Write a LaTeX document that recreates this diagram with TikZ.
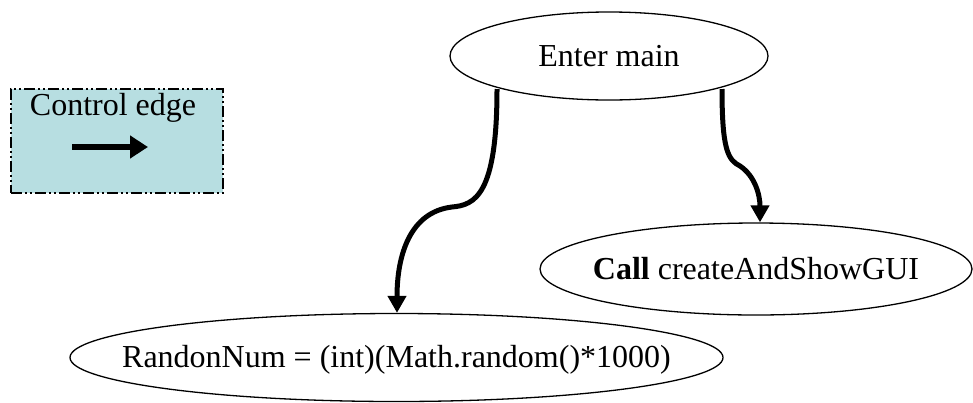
\documentclass[tikz,border=0pt]{standalone}
\usepackage{fontspec}
\setmainfont{Liberation Serif}
\usetikzlibrary{shapes.geometric,arrows.meta}
\definecolor{legendfill}{RGB}{183,222,225}
\begin{document}
\begin{tikzpicture}[x=1pt,y=-1pt,
  every node/.style={font=\fontsize{32}{38}\selectfont},
  stmt/.style={ellipse,draw,line width=1.3pt,inner sep=0pt},
  ctrl/.style={line width=5pt,-{Triangle[length=17pt,width=18pt]}},
  legendarrow/.style={line width=6pt,-{Triangle[length=18pt,width=22pt]}},
  legendbox/.style={draw,fill=legendfill,line width=1.8pt,
    dash pattern=on 11pt off 3pt on 2pt off 3pt on 2pt off 3pt}]
\useasboundingbox (0,0) rectangle (973,402);
% legend
\node[legendbox,minimum width=212pt,minimum height=104pt,anchor=north west] (legend) at (10,88) {};
\node (legtext) at (113,108) {Control edge};
\coordinate (la) at (72,147);
\coordinate (lb) at (148,147);
\draw[legendarrow] (la) -- (lb);
% nodes
\node[stmt,minimum width=318pt,minimum height=88pt] (enter) at (609,56) {};
\node (entertext) at (enter.center) {Enter main};
\node[stmt,minimum width=432pt,minimum height=92pt] (call) at (756,269) {};
\node (calltext) at (call.center) {\textbf{Call} createAndShowGUI};
\node[stmt,minimum width=653pt,minimum height=88pt] (rand) at (396.5,357.5) {};
\node (randtext) at (396.5,360) {RandonNum = (int)(Math.random()*1000)};
% edges
\coordinate (s1) at (497,89);
\coordinate (s2) at (722,89);
\draw[ctrl] (s1) .. controls (497,195) and (475,205) .. (452,207)
   .. controls (410,212) and (397,255) .. (rand.north -| 397,0);
\draw[ctrl] (s2) .. controls (722,150) and (728,160) .. (740,166)
   .. controls (755,176) and (760,195) .. (call.north -| 760,0);
\end{tikzpicture}
\end{document}
